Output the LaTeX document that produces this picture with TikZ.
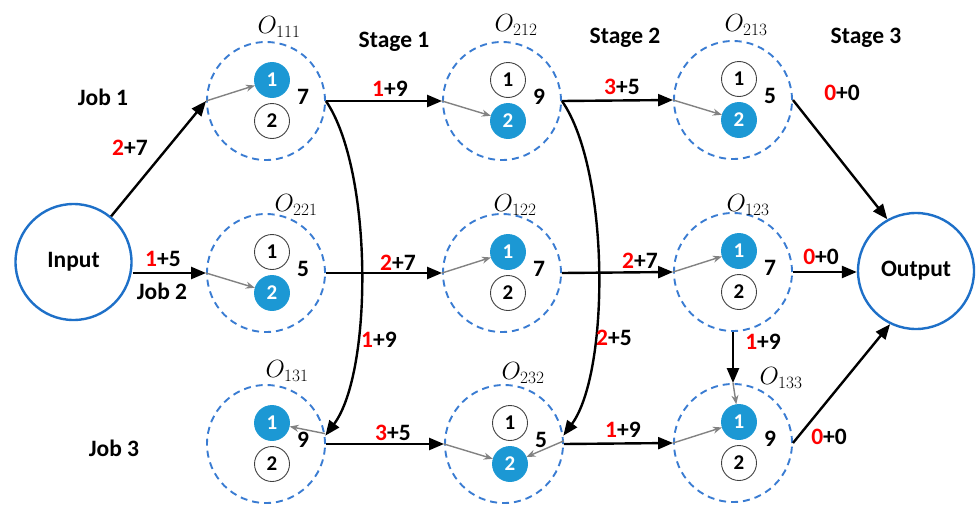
\documentclass[tikz,border=0pt]{standalone}
\usepackage{fontspec}
\setmainfont{Carlito}
\usetikzlibrary{arrows.meta,calc}

\definecolor{ringblue}{RGB}{30,112,200}
\definecolor{dashblue}{RGB}{58,124,210}
\definecolor{fillblue}{RGB}{28,152,212}
\definecolor{linkgray}{RGB}{130,130,130}
\definecolor{costred}{RGB}{255,0,0}

\newcommand\costtxt[2]{\textcolor{costred}{#1}+#2}

% one operation: dashed ring, two machine discs and the processing time
\newcommand\opgroup[5]{%
  \node[grp] (#1) at (#2) {};
  \node[#3] (#1-1) at ($(#1)+(6,-21)$) {1};
  \node[#4] (#1-2) at ($(#1)+(6,20)$) {2};
  \node[num] (#1-t) at ($(#1)+(37,-4)$) {#5};
}

\tikzset{
  x=1pt, y=-1pt,
  bigtxt/.style={font=\fontsize{23.5}{26}\selectfont\bfseries},
  grp/.style={circle, draw=dashblue, dash pattern=on 7pt off 5pt, line width=1.9pt,
    minimum size=118pt, inner sep=0pt},
  term/.style={circle, draw=ringblue, line width=2.4pt, minimum size=116pt,
    inner sep=0pt, bigtxt},
  mfree/.style={circle, draw=black!75, line width=0.9pt, minimum size=35pt,
    inner sep=0pt, font=\fontsize{21}{22}\selectfont\bfseries},
  mbusy/.style={circle, fill=fillblue, draw=fillblue, line width=0.9pt, minimum size=35pt,
    inner sep=0pt, text=white, font=\fontsize{21}{22}\selectfont\bfseries},
  num/.style={bigtxt, inner sep=0pt},
  cost/.style={bigtxt, inner sep=0pt},
  lbl/.style={bigtxt, inner sep=0pt},
  olab/.style={font=\fontsize{27}{30}\selectfont, inner sep=0pt},
  flow/.style={line width=2.4pt, -{Triangle[length=15pt,width=12pt]}},
  pick/.style={linkgray, line width=1.4pt, -{Stealth[length=9pt,width=7pt]}},
}

\begin{document}
\begin{tikzpicture}
\useasboundingbox (0,0) rectangle (976,506);

% source and sink
\node[term] (input) at (73.5,262) {Input};
\node[term] (output) at (916,271) {Output};

% operations, column by column
\opgroup{o111}{266,101}{mbusy}{mfree}{7}
\opgroup{o221}{266,273}{mfree}{mbusy}{5}
\opgroup{o131}{266,444}{mbusy}{mfree}{9}
\opgroup{o212}{502,101}{mfree}{mbusy}{9}
\opgroup{o122}{502,273}{mbusy}{mfree}{7}
\opgroup{o232}{504,444}{mfree}{mbusy}{5}
\opgroup{o213}{733,100}{mfree}{mbusy}{5}
\opgroup{o123}{733,272}{mbusy}{mfree}{7}
\opgroup{o133}{733,443}{mbusy}{mfree}{9}

% operation names
\node[olab] (l111) at (279,27) {$O_{111}$};
\node[olab] (l221) at (296,205) {$O_{221}$};
\node[olab] (l131) at (287,371) {$O_{131}$};
\node[olab] (l212) at (516,25) {$O_{212}$};
\node[olab] (l122) at (515,205) {$O_{122}$};
\node[olab] (l232) at (523,373) {$O_{232}$};
\node[olab] (l213) at (746,25) {$O_{213}$};
\node[olab] (l123) at (748,205) {$O_{123}$};
\node[olab] (l133) at (781,378) {$O_{133}$};

% stage and job captions
\node[lbl] (s1) at (394,42) {Stage 1};
\node[lbl] (s2) at (625,38) {Stage 2};
\node[lbl] (s3) at (866,38) {Stage 3};
\node[lbl] (j1) at (103,97) {Job 1};
\node[lbl] (j2) at (162,291) {Job 2};
\node[lbl] (j3) at (114,448) {Job 3};

% precedence / sequencing arcs
\draw[flow] (input) -- (o111.west);
\draw[flow] (o221.west -| input.east) -- (o221.west);
\draw[flow] (o111.east) -- (o212.west);
\draw[flow] (o221.east) -- (o122.west);
\draw[flow] (o131.east) -- (o232.west);
\draw[flow] (o212.east) -- (o213.west);
\draw[flow] (o122.east) -- (o123.west);
\draw[flow] (o232.east) -- (o133.west);
\draw[flow] (o111.east) .. controls (373,170) and (373,372) .. (o131.8);
\draw[flow] (o212.east) .. controls (610,170) and (610,372) .. (o232.8);
\draw[flow] (o123.south) -- (o133.north);
\draw[flow] (o213.east) -- (output.119);
\draw[flow] (o123.east) -- (o123.east -| output.west);
\draw[flow] (o133.east) -- (output.244);

% machine assignment inside each operation
\draw[pick] (o111.west) -- (o111-1);
\draw[pick] (o221.west) -- (o221-2);
\draw[pick] (o131.10) -- (o131-1);
\draw[pick] (o212.west) -- (o212-2);
\draw[pick] (o122.west) -- (o122-1);
\draw[pick] (o232.west) -- (o232-2);
\draw[pick] (o232.3) -- (o232-2);
\draw[pick] (o213.west) -- (o213-2);
\draw[pick] (o123.west) -- (o123-1);
\draw[pick] (o133.west) -- (o133-1);
\draw[pick] (o133.north) -- (o133-1);

% arc weights
\node[cost] (c1) at (130,148) {\costtxt{2}{7}};
\node[cost] (c2) at (163,259) {\costtxt{1}{5}};
\node[cost] (c3) at (390,89) {\costtxt{1}{9}};
\node[cost] (c4) at (398,263) {\costtxt{2}{7}};
\node[cost] (c5) at (379,340) {\costtxt{1}{9}};
\node[cost] (c6) at (393,433) {\costtxt{3}{5}};
\node[cost] (c7) at (622,87) {\costtxt{3}{5}};
\node[cost] (c8) at (640,261) {\costtxt{2}{7}};
\node[cost] (c9) at (614,338) {\costtxt{2}{5}};
\node[cost] (c10) at (623,430) {\costtxt{1}{9}};
\node[cost] (c11) at (763,342) {\costtxt{1}{9}};
\node[cost] (c12) at (842,93) {\costtxt{0}{0}};
\node[cost] (c13) at (821,257) {\costtxt{0}{0}};
\node[cost] (c14) at (829,437) {\costtxt{0}{0}};
\end{tikzpicture}
\end{document}
